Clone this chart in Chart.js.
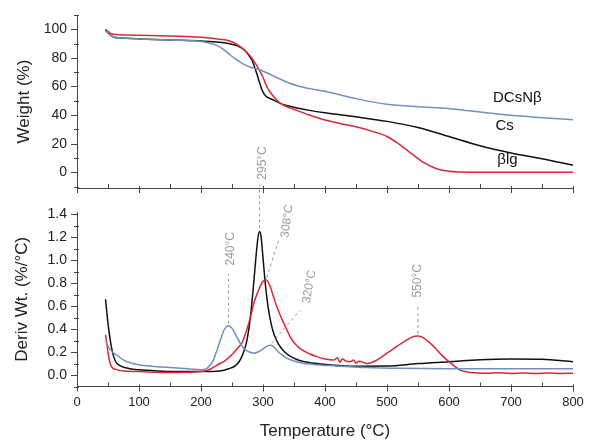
<!DOCTYPE html>
<html><head><meta charset="utf-8">
<script src="https://cdn.jsdelivr.net/npm/chart.js@4.4.1/dist/chart.umd.min.js"></script>
<style>
html,body{margin:0;padding:0;background:#fff;}
#wrap{position:relative;width:589px;height:440px;background:#fff;}
#wrap canvas{position:absolute;left:0;top:0;}
</style></head><body>
<div id="wrap">
<canvas id="dtg" width="589" height="440" style="width:589px;height:440px"></canvas>
<canvas id="tga" width="589" height="200" style="width:589px;height:200px"></canvas>
</div>
<script>
// ---------- DATA ----------
const seriesNames = ['DCsNβ', 'Cs', 'βlg'];

// TGA (weight %)
const tgaTempDCsNb = [46, 50, 55, 60, 70, 80, 100, 150, 200, 215, 225, 235, 245, 253, 260, 269, 280, 293, 305, 315, 325, 340, 355, 375, 400, 450, 500, 550, 600, 650, 700, 750, 800];
const tgaWeightDCsNb = [99, 97.5, 95.5, 94.5, 94, 93.7, 93.3, 92.5, 91.5, 90.3, 88.8, 86.3, 82.8, 80, 78, 75.5, 73.5, 72, 69.8, 67.8, 65.7, 62.8, 60.5, 58.5, 56.6, 51.5, 47.6, 45.8, 44.5, 42.2, 39.8, 38.2, 36.8];

const tgaTempCs = [46, 50, 55, 60, 70, 80, 100, 150, 200, 230, 245, 255, 262, 270, 276, 282, 287, 291, 295, 299, 304, 310, 318, 328, 340, 355, 375, 400, 450, 500, 550, 600, 650, 700, 750, 800];
const tgaWeightCs = [99.5, 97.5, 95.5, 94.5, 94, 93.7, 93.3, 92.5, 91.8, 91, 90, 89, 87.8, 85.5, 82.5, 78.5, 73, 67.5, 62, 57, 53.5, 51.8, 50.3, 48.2, 46.5, 45, 43.3, 41.6, 38.8, 35.6, 31.3, 25, 18.5, 13.5, 9.5, 5];

const tgaTempBlg = [46, 50, 55, 60, 70, 80, 100, 150, 200, 230, 245, 258, 270, 280, 288, 294, 300, 305, 310, 318, 326, 335, 350, 375, 400, 425, 450, 475, 500, 520, 540, 560, 580, 600, 620, 650, 700, 750, 800];
const tgaWeightBlg = [100, 98.5, 97, 96.5, 96.2, 96, 95.8, 95.3, 94.5, 93, 92, 89.5, 85.5, 81, 76, 71.5, 66.5, 61, 57, 52.5, 49, 46.5, 44, 40, 36.5, 34, 31.8, 28.8, 25, 19.5, 12.8, 6.5, 2.5, 0.7, 0.2, 0, 0, 0, 0];

// DTG (%/°C)
const dtgTempDCsNb = [46, 51, 57, 65, 75, 90, 102, 129, 156, 183, 200, 210, 215, 220, 226, 231, 237, 244.5, 251, 258, 265, 271.5, 278, 285, 292, 298, 306, 313, 319, 325, 332, 339, 350, 360, 385, 414, 468, 521, 600, 700, 800];
const dtgDCsNb = [0.3, 0.24, 0.2, 0.17, 0.13, 0.1, 0.087, 0.072, 0.064, 0.052, 0.045, 0.06, 0.09, 0.13, 0.22, 0.3, 0.39, 0.43, 0.4, 0.33, 0.26, 0.22, 0.2, 0.19, 0.2, 0.22, 0.25, 0.26, 0.235, 0.2, 0.17, 0.145, 0.122, 0.107, 0.09, 0.08, 0.065, 0.058, 0.055, 0.055, 0.055];

const dtgTempCs = [46, 50, 56, 62, 70, 85, 100, 130, 160, 200, 230, 245, 255, 262, 268, 274, 280, 285, 289, 292, 294.5, 297, 300, 304, 308, 313, 318, 325, 335, 345, 360, 380, 410, 450, 500, 550, 600, 650, 700, 750, 800];
const dtgCs = [0.66, 0.45, 0.23, 0.12, 0.08, 0.055, 0.045, 0.035, 0.03, 0.03, 0.035, 0.055, 0.08, 0.12, 0.19, 0.3, 0.52, 0.8, 1.05, 1.2, 1.25, 1.2, 1.02, 0.78, 0.6, 0.45, 0.35, 0.27, 0.2, 0.16, 0.125, 0.105, 0.088, 0.077, 0.078, 0.1, 0.116, 0.133, 0.139, 0.137, 0.116];

const dtgTempBlg = [46, 48, 51, 56, 65, 75, 100, 150, 200, 215, 226, 240, 252, 260, 266, 273, 280, 286, 293, 299, 305, 311, 317, 324, 331, 338, 344, 352, 360, 375, 387, 400, 414, 420, 424, 428, 434, 441, 446, 450, 455, 468, 480, 489, 500, 516, 530, 540, 550, 560, 575, 587, 597, 608, 618, 630, 640, 660, 680, 700, 720, 740, 760, 780, 800];
const dtgBlg = [0.35, 0.28, 0.16, 0.07, 0.045, 0.035, 0.03, 0.022, 0.03, 0.05, 0.087, 0.13, 0.19, 0.24, 0.28, 0.38, 0.51, 0.64, 0.74, 0.81, 0.83, 0.78, 0.68, 0.57, 0.48, 0.4, 0.33, 0.27, 0.23, 0.185, 0.16, 0.14, 0.13, 0.15, 0.11, 0.14, 0.12, 0.116, 0.13, 0.105, 0.12, 0.1, 0.12, 0.15, 0.19, 0.25, 0.3, 0.33, 0.34, 0.32, 0.25, 0.18, 0.13, 0.08, 0.043, 0.025, 0.02, 0.015, 0.02, 0.014, 0.018, 0.013, 0.017, 0.014, 0.016];

// peak annotations
const peakLabels = ['240°C', '295°C', '308°C', '320°C', '550°C'];
const peakTemps = [244.5, 294.5, 306, 314, 550];
const peakValues = [0.43, 1.26, 0.83, 0.26, 0.34];

// axis ticks
const tempRange = [0, 800];
const weightTicks = [0, 20, 40, 60, 80, 100];
const derivTicks = [0, 0.2, 0.4, 0.6, 0.8, 1.0, 1.2, 1.4];

// ---------- STYLES ----------
const COL_BLUE = '#7391b8', COL_BLACK = '#111111', COL_RED = '#d8283a';
const FONT = '"Liberation Sans", Arial, sans-serif';
const xy = (xs, ys) => xs.map((x, i) => ({x, y: ys[i]}));
const lineDs = (label, data, color) => ({
  label, data, borderColor: color, backgroundColor: color, borderWidth: 1.5,
  pointRadius: 0, fill: false, cubicInterpolationMode: 'monotone'
});
const noPadX = s => { s.paddingLeft = 0; s.paddingRight = 0; };
const noPadY = s => { s.paddingTop = 0; s.paddingBottom = 0; };

const tickMarks = {
  id: 'tickMarks',
  afterDraw(chart, args, o) {
    const {ctx, chartArea: a, scales: {x, y}} = chart;
    ctx.save();
    ctx.strokeStyle = '#444'; ctx.lineWidth = 1;
    ctx.beginPath();
    const nx = Math.round((x.max - x.min) / o.xMinor);
    const rx = Math.round(o.xMajor / o.xMinor);
    for (let i = 0; i <= nx; i++) {
      const px = Math.round(x.getPixelForValue(x.min + i * o.xMinor)) + 0.5;
      if (i % rx === 0) { ctx.moveTo(px, a.bottom - 2); ctx.lineTo(px, a.bottom + 5); }
      else { ctx.moveTo(px, a.bottom - 4); ctx.lineTo(px, a.bottom); }
    }
    const ks = Math.ceil(y.min / o.yMinor - 1e-9), ke = Math.floor(y.max / o.yMinor + 1e-9);
    const ry = Math.round(o.yMajor / o.yMinor);
    for (let k = ks; k <= ke; k++) {
      const py = Math.round(y.getPixelForValue(k * o.yMinor)) + 0.5;
      if (k % ry === 0) { ctx.moveTo(a.left - 6, py); ctx.lineTo(a.left, py); }
      else { ctx.moveTo(a.left - 3, py); ctx.lineTo(a.left + 2, py); }
    }
    ctx.stroke();
    ctx.restore();
  }
};

const seriesTags = {
  id: 'seriesTags',
  afterDatasetsDraw(chart, args, o) {
    const {ctx, scales: {x, y}} = chart;
    ctx.save();
    ctx.font = '15px ' + FONT; ctx.fillStyle = '#111';
    ctx.textAlign = 'left'; ctx.textBaseline = 'middle';
    o.items.forEach(it => ctx.fillText(it.text, x.getPixelForValue(it.at[0]), y.getPixelForValue(it.at[1])));
    ctx.restore();
  }
};

const peakNotes = {
  id: 'peakNotes',
  afterDatasetsDraw(chart, args, o) {
    const {ctx, scales: {x, y}} = chart;
    ctx.save();
    ctx.strokeStyle = '#9a9a9a'; ctx.lineWidth = 1; ctx.setLineDash([3, 3]);
    ctx.fillStyle = '#9a9a9a'; ctx.font = '12px ' + FONT;
    ctx.textAlign = 'center'; ctx.textBaseline = 'middle';
    peakLabels.forEach((t, i) => {
      const g = o.geom[i];
      ctx.beginPath();
      ctx.moveTo(x.getPixelForValue(peakTemps[i]), y.getPixelForValue(peakValues[i]) - 2);
      ctx.lineTo(x.getPixelForValue(g.end[0]), y.getPixelForValue(g.end[1]));
      ctx.stroke();
      ctx.save();
      ctx.translate(x.getPixelForValue(g.label[0]), y.getPixelForValue(g.label[1]));
      ctx.rotate(g.rot * Math.PI / 180);
      ctx.fillText(t, 0, 0);
      ctx.restore();
    });
    ctx.restore();
  }
};

const tickFont = {family: FONT, size: 14};
const titleFont = {family: FONT, size: 17, lineHeight: 1.2};

// ---------- TOP: TGA ----------
new Chart(document.getElementById('tga'), {
  type: 'line',
  data: {datasets: [
    lineDs(seriesNames[0], xy(tgaTempDCsNb, tgaWeightDCsNb), COL_BLUE),
    lineDs(seriesNames[2], xy(tgaTempBlg, tgaWeightBlg), COL_RED),
    lineDs(seriesNames[1], xy(tgaTempCs, tgaWeightCs), COL_BLACK)
  ]},
  options: {
    responsive: false, animation: false, devicePixelRatio: 1,
    layout: {padding: {top: 15, right: 16, left: 0, bottom: 0}},
    plugins: {legend: {display: false}, tooltip: {enabled: false},
      tickMarks: {xMinor: 50, xMajor: 100, yMinor: 10, yMajor: 20},
      seriesTags: {items: [
        {text: seriesNames[0], at: [671, 52]},
        {text: seriesNames[1], at: [675, 32.4]},
        {text: seriesNames[2], at: [678, 8.6]}
      ]}
    },
    scales: {
      x: {type: 'linear', min: tempRange[0], max: tempRange[1],
        grid: {display: false, drawTicks: false},
        border: {display: true, color: '#444', width: 1},
        ticks: {display: false, stepSize: 100},
        afterFit: s => { s.height = 12; noPadX(s); }
      },
      y: {min: -11, max: 110,
        grid: {display: false, drawTicks: false},
        border: {display: true, color: '#444', width: 1},
        afterBuildTicks: s => { s.ticks = weightTicks.map(v => ({value: v})); },
        ticks: {font: tickFont, color: '#222', padding: 10, callback: v => String(v)},
        title: {display: true, text: 'Weight (%)', font: titleFont, color: '#222', padding: {top: 14, bottom: 0}},
        afterFit: s => { s.width = 77; noPadY(s); }
      }
    }
  },
  plugins: [tickMarks, seriesTags]
});

// ---------- BOTTOM: DTG ----------
new Chart(document.getElementById('dtg'), {
  type: 'line',
  data: {datasets: [
    lineDs(seriesNames[0], xy(dtgTempDCsNb, dtgDCsNb), COL_BLUE),
    lineDs(seriesNames[2], xy(dtgTempBlg, dtgBlg), COL_RED),
    lineDs(seriesNames[1], xy(dtgTempCs, dtgCs), COL_BLACK)
  ]},
  options: {
    responsive: false, animation: false, devicePixelRatio: 1,
    layout: {padding: {top: 212, right: 16, left: 0, bottom: 0}},
    plugins: {legend: {display: false}, tooltip: {enabled: false},
      tickMarks: {xMinor: 50, xMajor: 100, yMinor: 0.1, yMajor: 0.2},
      peakNotes: {geom: [
        {end: [244.5, 0.88], label: [247.5, 1.10], rot: -90},
        {end: [294.5, 1.66], label: [299, 1.847], rot: -90},
        {end: [325, 1.17], label: [339, 1.34], rot: -82},
        {end: [360, 0.565], label: [374.7, 0.77], rot: -80},
        {end: [550, 0.62], label: [549, 0.82], rot: -90}
      ]}
    },
    scales: {
      x: {type: 'linear', min: tempRange[0], max: tempRange[1],
        grid: {display: false, drawTicks: false},
        border: {display: true, color: '#444', width: 1},
        afterBuildTicks: s => { const t = []; for (let v = tempRange[0]; v <= tempRange[1]; v += 100) t.push({value: v}); s.ticks = t; },
        ticks: {font: {family: FONT, size: 13}, color: '#222', padding: 8, maxRotation: 0, autoSkip: false},
        title: {display: true, text: 'Temperature (°C)', font: {family: FONT, size: 17, lineHeight: 1}, color: '#222', padding: {top: 0, bottom: 0}},
        afterFit: s => { s.height = 53.5; noPadX(s); }
      },
      y: {min: -0.1, max: 1.42,
        grid: {display: false, drawTicks: false},
        border: {display: true, color: '#444', width: 1},
        afterBuildTicks: s => { s.ticks = derivTicks.map(v => ({value: v})); },
        ticks: {font: tickFont, color: '#222', padding: 10, callback: v => Number(v).toFixed(1)},
        title: {display: true, text: 'Deriv Wt. (%/°C)', font: titleFont, color: '#222', padding: {top: 12, bottom: 0}},
        afterFit: s => { s.width = 77; noPadY(s); }
      }
    }
  },
  plugins: [tickMarks, peakNotes]
});
</script>
</body></html>
